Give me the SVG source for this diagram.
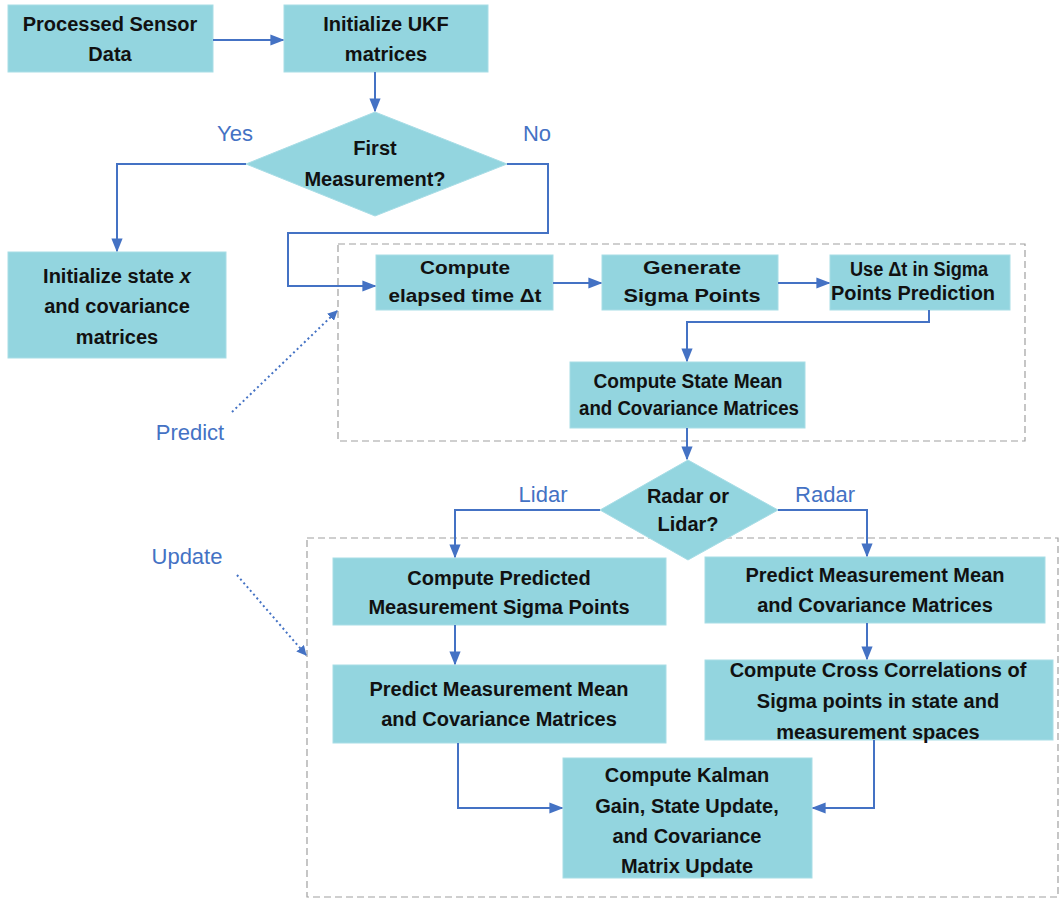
<svg xmlns="http://www.w3.org/2000/svg" width="1062" height="899" viewBox="0 0 1062 899">
<style>
.box{fill:#93d5df;stroke:#a8dde6;stroke-width:1}
.t{font-family:"Liberation Sans",Arial,sans-serif;font-weight:bold;font-size:20px;fill:#111;text-anchor:middle}
.s{font-size:19px}
.lab{font-family:"Liberation Sans",Arial,sans-serif;font-size:22px;fill:#4472c4;text-anchor:middle}
.c{fill:none;stroke:#4472c4;stroke-width:2}
.d{fill:none;stroke:#4472c4;stroke-width:2;stroke-dasharray:2 3}
.g{fill:none;stroke:#a0a0a0;stroke-width:1.2;stroke-dasharray:7 4}
</style>
<defs>
<marker id="a" viewBox="0 0 10 10" refX="9" refY="5" markerWidth="10" markerHeight="10" markerUnits="userSpaceOnUse" orient="auto"><path d="M0,0 L10,5 L0,10 z" fill="#4472c4"/></marker>
<marker id="ab" viewBox="0 0 10 10" refX="9" refY="5" markerWidth="14" markerHeight="14" markerUnits="userSpaceOnUse" orient="auto"><path d="M0,1 L10,5 L0,9 z" fill="#4472c4"/></marker>
</defs>
<rect width="1062" height="899" fill="#fff"/>
<g id="groups">
<rect class="g" x="338" y="244" width="687" height="197"/>
<rect class="g" x="307" y="538" width="751" height="359"/>
</g>
<g id="n1"><rect class="box" x="8" y="5" width="205" height="67"/><text class="t" x="110" y="31">Processed Sensor</text><text class="t" x="110" y="61">Data</text></g>
<g id="n2"><rect class="box" x="284" y="5" width="204" height="67"/><text class="t" x="386" y="31">Initialize UKF</text><text class="t" x="386" y="61">matrices</text></g>
<g id="n3"><polygon class="box" points="375,112 507,164 375,216 246,164"/><text class="t" x="375" y="155">First</text><text class="t" x="375" y="186">Measurement?</text></g>
<g id="n4"><rect class="box" x="8" y="252" width="218" height="106"/><text class="t" x="117" y="283">Initialize state <tspan font-style="italic">x</tspan></text><text class="t" x="117" y="313">and covariance</text><text class="t" x="117" y="344">matrices</text></g>
<g id="n5"><rect class="box" x="376" y="255" width="177" height="55"/><text class="t s" x="465" y="274" textLength="90" lengthAdjust="spacingAndGlyphs">Compute</text><text class="t s" x="465" y="302" textLength="153" lengthAdjust="spacingAndGlyphs">elapsed time Δt</text></g>
<g id="n6"><rect class="box" x="602" y="255" width="176" height="55"/><text class="t s" x="692" y="274" textLength="98" lengthAdjust="spacingAndGlyphs">Generate</text><text class="t s" x="692" y="302" textLength="137" lengthAdjust="spacingAndGlyphs">Sigma Points</text></g>
<g id="n7"><rect class="box" x="830" y="255" width="180" height="55"/><text class="t" x="919" y="276" font-size="18" textLength="138" lengthAdjust="spacingAndGlyphs">Use Δt in Sigma</text><text class="t" x="913" y="300" font-size="18" textLength="164" lengthAdjust="spacingAndGlyphs">Points Prediction</text></g>
<g id="n8"><rect class="box" x="570" y="362" width="235" height="66"/><text class="t" x="688" y="388" font-size="18" textLength="189" lengthAdjust="spacingAndGlyphs">Compute State Mean</text><text class="t" x="689" y="415" font-size="18" textLength="220" lengthAdjust="spacingAndGlyphs">and Covariance Matrices</text></g>
<g id="n9"><polygon class="box" points="688,460 778,510 688,560 600,510"/><text class="t" x="688" y="503">Radar or</text><text class="t" x="688" y="531">Lidar?</text></g>
<g id="n10"><rect class="box" x="333" y="558" width="333" height="67"/><text class="t" x="499" y="585">Compute Predicted</text><text class="t" x="499" y="614">Measurement Sigma Points</text></g>
<g id="n11"><rect class="box" x="705" y="557" width="340" height="66"/><text class="t" x="875" y="582">Predict Measurement Mean</text><text class="t" x="875" y="612">and Covariance Matrices</text></g>
<g id="n12"><rect class="box" x="333" y="665" width="333" height="78"/><text class="t" x="499" y="696">Predict Measurement Mean</text><text class="t" x="499" y="726">and Covariance Matrices</text></g>
<g id="n13"><rect class="box" x="705" y="660" width="348" height="80"/><text class="t" x="878" y="677">Compute Cross Correlations of</text><text class="t" x="878" y="708">Sigma points in state and</text><text class="t" x="878" y="739">measurement spaces</text></g>
<g id="n14"><rect class="box" x="563" y="758" width="249" height="120"/><text class="t" x="687" y="782">Compute Kalman</text><text class="t" x="687" y="813">Gain, State Update,</text><text class="t" x="687" y="843">and Covariance</text><text class="t" x="687" y="873">Matrix Update</text></g>
<g id="labels">
<text class="lab" x="235" y="141">Yes</text>
<text class="lab" x="537" y="141">No</text>
<text class="lab" x="190" y="440">Predict</text>
<text class="lab" x="543" y="502">Lidar</text>
<text class="lab" x="825" y="502">Radar</text>
<text class="lab" x="187" y="564">Update</text>
</g>
<g id="connectors">
<path class="c" d="M213,40 H283" marker-end="url(#ab)"/>
<path class="c" d="M375,72 V111" marker-end="url(#ab)"/>
<path class="c" d="M246,164 H117 V251" marker-end="url(#ab)"/>
<path class="c" d="M507,164 H548 V233 H288 V286 H375" marker-end="url(#ab)"/>
<path class="c" d="M553,283 H601" marker-end="url(#ab)"/>
<path class="c" d="M778,283 H829" marker-end="url(#ab)"/>
<path class="c" d="M929,310 V322 H687 V361" marker-end="url(#ab)"/>
<path class="c" d="M687,428 V459" marker-end="url(#ab)"/>
<path class="c" d="M600,510 H455 V557" marker-end="url(#ab)"/>
<path class="c" d="M778,510 H867 V556" marker-end="url(#ab)"/>
<path class="c" d="M455,625 V664" marker-end="url(#ab)"/>
<path class="c" d="M867,623 V659" marker-end="url(#ab)"/>
<path class="c" d="M458,743 V808 H562" marker-end="url(#ab)"/>
<path class="c" d="M874,740 V808 H813" marker-end="url(#ab)"/>
<path class="d" d="M232,412 L337,311" marker-end="url(#a)"/>
<path class="d" d="M237,575 L306,655" marker-end="url(#a)"/>
</g>
</svg>
